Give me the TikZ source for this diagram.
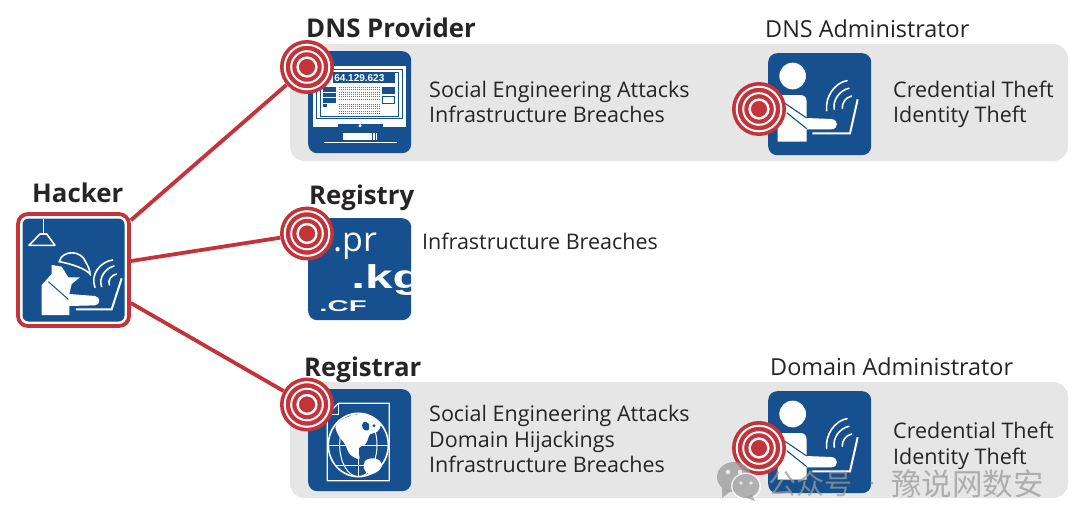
\documentclass[tikz,border=0pt]{standalone}
\usepackage{fontspec}
\setmainfont{Open Sans}
\newfontfamily\cjkf{Noto Sans CJK SC}
\newfontfamily\wide{Liberation Sans}
\definecolor{ink}{HTML}{262425}
\definecolor{navy}{HTML}{17508F}
\definecolor{crim}{HTML}{C4323A}
\definecolor{panel}{HTML}{E6E6E6}
\definecolor{wm}{HTML}{9A9A9A}
\tikzset{
  x=1pt,y=-1pt,
  lab/.style={anchor=base west,inner sep=0,text=ink,font=\fontsize{21.5}{24}\selectfont},
  adm/.style={anchor=base west,inner sep=0,text=ink,font=\fontsize{23.4}{26}\selectfont},
  head/.style={anchor=base west,inner sep=0,text=ink,font=\fontsize{25.8}{28}\selectfont\bfseries},
  iconbox/.style={draw=none,fill=navy,rounded corners=9,inner sep=0,minimum width=103,minimum height=102,anchor=north west},
  bar/.style={fill=panel,draw=none,rounded corners=15},
  link/.style={draw=crim,line width=3.8},
  tgt/.style={circle,fill=crim,draw=none,minimum size=54,inner sep=0,
    path picture={
      \draw[white,line width=2] (path picture bounding box.center) circle (22.3);
      \draw[white,line width=2] (path picture bounding box.center) circle (15.8);
      \draw[white,line width=2.4] (path picture bounding box.center) circle (9.4);
    }},
  wave/.style={draw=white,line width=1.6,line cap=round},
  ww/.style={draw=white,line width=2},
}
\newcommand{\adminicon}{%
  \fill[white] (203,108) circle (40);
  \fill[white] (158,305) -- (158,180) .. controls (158,170) and (165,165) .. (175,165) -- (225,165)
    .. controls (238,165) and (245,172) .. (245,185) -- (245,234) -- (318,237)
    .. controls (342,238) and (342,268) .. (318,268) -- (245,268) -- (245,305) -- cycle;
  \draw[navy,line width=1.1] (180,190) -- (245,234);
  \draw[navy,line width=1.1] (185,218) -- (245,266);
  \draw[ww] (262,280) -- (375,280) -- (398,178);
  \draw[wave] (305,212) .. controls (300,170) and (330,128) .. (366,122);
  \draw[wave] (328,208) .. controls (322,180) and (345,150) .. (372,145);
  \draw[wave] (352,205) .. controls (350,190) and (362,172) .. (380,168);
}
\begin{document}
\begin{tikzpicture}
\useasboundingbox (0,0) rectangle (1080,525);
\fill[white] (0,0) rectangle (1080,525);
% panels
\fill[bar] (290,44) rectangle (1068,161);
\fill[bar] (290,382) rectangle (1068,498);
% hacker box
\node[draw=crim,fill=white,line width=3.8,rounded corners=10,inner sep=0,minimum width=111,minimum height=112] (hacker) at (73.5,270) {};
\node[fill=navy,rounded corners=6,inner sep=0,minimum width=102,minimum height=103] (hackerface) at (73.5,270) {};
% icon boxes
\node[iconbox] (dnsbox) at (308,51) {};
\node[iconbox] (regbox) at (308,218) {};
\node[iconbox] (rarbox) at (308,389) {};
\node[iconbox] (adm1) at (768,53) {};
\node[iconbox] (adm2) at (768,391) {};
% hacker figure
\begin{scope}[shift={(0,170)},scale=1/3]
  \draw[white,line width=1.6] (130,147) -- (130,190);
  \draw[white,line width=1.6,line join=round] (87,226) -- (165,226) -- (140,192) -- (120,192) -- cycle;
  \fill[white] (125,435) -- (125,345) -- (155,312) -- (155,285) -- (185,290) -- (205,322) -- (240,322)
    -- (215,342) -- (208,372) -- (285,378) .. controls (302,380) and (302,405) .. (285,406) -- (208,408) -- (208,435) -- cycle;
  \draw[navy,line width=1] (145,335) -- (205,388);
  \draw[white,line width=1.6,fill=navy] (178,275) .. controls (185,240) and (245,238) .. (258,278)
    .. controls (265,290) and (270,300) .. (270,312) .. controls (255,295) and (215,282) .. (178,275) -- cycle;
  \draw[ww] (228,418) -- (335,418) -- (365,325);
  \draw[wave] (285,352) .. controls (270,315) and (300,275) .. (338,270);
  \draw[wave] (305,350) .. controls (295,325) and (315,295) .. (342,288);
  \draw[wave] (328,345) .. controls (322,330) and (335,315) .. (350,312);
\end{scope}
% monitor
\begin{scope}[shift={(270,30)},scale=1/3]
  \fill[white] (130,108) rectangle (408,292);
  \draw[navy,line width=0.7] (140,118) rectangle (398,266);
  \draw[navy,line width=0.7] (152,126) rectangle (386,258);
  \fill[navy] (190,128) rectangle (375,158);
  \node[inner sep=0,text=white,font=\wide\fontsize{10}{12}\selectfont\bfseries] (ipaddr) at (268,143) {64.129.623};
  \fill[navy] (160,170) rectangle (198,220);
  \draw[white,line width=0.6] (160,187) -- (198,187) (160,203) -- (198,203);
  \fill[navy] (160,222) rectangle (172,230);
  \fill[navy] (335,170) rectangle (375,193);
  \draw[navy,line width=0.8] (336,199) rectangle (374,219);
  \foreach \yy in {172,179,186,193,200,207,222,229,236,243,250}
    \draw[navy!75,line width=0.55,dash pattern=on 1.3pt off 0.7pt] (207,\yy) -- (330,\yy);
  \fill[navy] (203,283) -- (338,283) -- (338,306) -- (203,306) -- cycle;
  \fill[white] (270,287) circle (5);
  \fill[white] (220,308) rectangle (322,330);
  \fill[navy] (305,308) rectangle (310,330);
  \fill[navy] (315,308) rectangle (317,330);
  \draw[white,line width=1.1] (162,337) -- (382,337);
\end{scope}
% registry
\begin{scope}
  \clip[rounded corners=9] (308,218) rectangle (411,320);
  \node[anchor=base west,inner sep=0,text=white,font=\fontsize{34}{36}\selectfont] (pr) at (333,251) {.pr};
  \node[anchor=base west,inner sep=0,text=white,xscale=1.5,font=\wide\fontsize{33}{36}\selectfont\bfseries] (kg) at (351,288) {.kg};
  \node[anchor=base west,inner sep=0,text=white,xscale=1.9,font=\wide\fontsize{15.5}{18}\selectfont\bfseries] (cf) at (319,311.5) {.CF};
\end{scope}
% globe
\begin{scope}[shift={(270,375)},scale=1/3]
  \draw[white,line width=1.3,line join=miter] (205,85) -- (358,85) -- (358,317) -- (172,317) -- (172,118) -- cycle;
  \draw[white,line width=1] (205,85) -- (205,118) -- (172,118);
  \draw[white,line width=1.6] (265,210) circle [x radius=90,y radius=95];
  \draw[white,line width=1] (265,210) circle [x radius=56,y radius=95];
  \draw[white,line width=1] (265,115) -- (265,305);
  \draw[white,line width=1] (172,210) -- (358,210);
  \draw[white,line width=1] (198,150) -- (332,150);
  \draw[white,line width=1] (198,270) -- (332,270);
  \fill[white] plot[smooth cycle,tension=0.6] coordinates {(198,150) (235,125) (290,118) (330,145) (322,170) (300,178) (288,205) (265,222) (268,252) (240,238) (225,208) (205,180)};
  \fill[white] plot[smooth cycle,tension=0.7] coordinates {(285,258) (315,250) (335,265) (328,285) (300,298) (283,283)};
  \fill[navy] plot[smooth cycle,tension=0.8] coordinates {(280,142) (296,146) (294,166) (278,160)};
  \fill[navy] (312,152) circle (5);
\end{scope}
% connectors and targets
\node[tgt] (t1) at (307,67) {};
\node[tgt] (t2) at (307,233.5) {};
\node[tgt] (t3) at (307,404.5) {};
\begin{scope}[shift={(725,40)},scale=1/3]\adminicon\end{scope}
\begin{scope}[shift={(725,378)},scale=1/3]\adminicon\end{scope}
\node[tgt] (t4) at (759,109) {};
\node[tgt] (t5) at (759,448) {};
\draw[link] (hacker) -- (t1);
\draw[link] (hacker) -- (t2);
\draw[link] (hacker) -- (t3);
% text
\node[head] (n1) at (32,202) {Hacker};
\node[head] (n2) at (306,37) {DNS Provider};
\node[head] (n3) at (309,204) {Registry};
\node[head] (n4) at (304,376) {Registrar};
\node[adm] (n5) at (765,37) {DNS Administrator};
\node[adm] (n6) at (770,375) {Domain Administrator};
\node[lab] (a1) at (429,97) {Social Engineering Attacks};
\node[lab] (a2) at (429,122) {Infrastructure Breaches};
\node[lab] (a3) at (893,97) {Credential Theft};
\node[lab] (a4) at (893,122) {Identity Theft};
\node[lab] (b1) at (422,249) {Infrastructure Breaches};
\node[lab] (c1) at (429,421) {Social Engineering Attacks};
\node[lab] (c2) at (429,447) {Domain Hijackings};
\node[lab] (c3) at (429,472) {Infrastructure Breaches};
\node[lab] (c4) at (893,438) {Credential Theft};
\node[lab] (c5) at (893,464) {Identity Theft};
% watermark
\begin{scope}[opacity=0.75]
  \fill[wm] (734,477) circle [x radius=17,y radius=15];
  \fill[wm] (722,488) -- (722,498) -- (731,491) -- cycle;
  \fill[white] (746,486) circle [x radius=15,y radius=13.5];
  \fill[wm] (746,486) circle [x radius=13.5,y radius=12];
  \fill[wm] (752,495) -- (755,501) -- (745,497) -- cycle;
  \fill[white] (728,472) circle (2.2) (740,472) circle (2.2) (741,483) circle (1.8) (751,483) circle (1.8);
  \node[inner sep=0,anchor=base west,text=wm,font=\cjkf\fontsize{28}{30}\selectfont] (w1) at (768,494) {公众号};
  \fill[wm] (872,483) circle (1.5);
  \node[inner sep=0,anchor=base west,text=wm,font=\cjkf\fontsize{30.5}{32}\selectfont] (w2) at (891,495) {豫说网数安};
\end{scope}
\end{tikzpicture}
\end{document}
